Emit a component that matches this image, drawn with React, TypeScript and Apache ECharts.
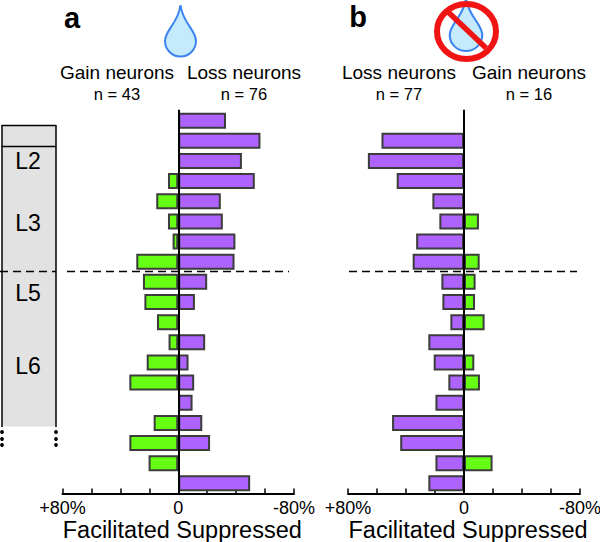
import React, { useEffect, useRef } from "react";
import * as echarts from "echarts";

const rows = ["1","2","3","4","5","6","7","8","9","10","11","12","13","14","15","16","17","18","19"];
// Positive = facilitated (left), negative = suppressed (right)
const aLoss = [-33,-56.8,-44,-52.9,-29.4,-30.8,-39.5,-38.9,-20,-11.5,null,-18.6,-7.1,-11,-9.9,-16.6,-22,null,-49.7];
const aGain = [null,null,null,7.1,15.2,7.1,3.9,29,24.4,23.4,14.7,6.7,21.8,33.8,null,17,33.8,20.5,null];
const bLoss = [null,56.9,66.3,46.4,21.8,17,33,35.4,15.6,14.9,9.4,24.6,20.9,10.8,19.7,49.6,44,19.7,24.6];
const bGain = [null,null,null,null,null,-10.3,null,-10.8,-8,-7.6,-14.2,null,-7.1,-11,null,null,null,-19.7,null];
const axisTicks = { min: -80, max: 80, interval: 20 };
const tickLabels: Record<string, string> = { "80": "+80%", "0": "0", "-80": "-80%" };
const layers = [
  { name: "L2", y: 161 },
  { name: "L3", y: 223 },
  { name: "L5", y: 293 },
  { name: "L6", y: 366 },
];
const headers = [
  { text: "Gain neurons", n: "n = 43", x: 117 },
  { text: "Loss neurons", n: "n = 76", x: 244 },
  { text: "Loss neurons", n: "n = 77", x: 399 },
  { text: "Gain neurons", n: "n = 16", x: 529 },
];
const PURPLE = "#ae63ff";
const GREEN = "#66ff14";
const DROP = "M0 0 C2 18 15.5 25 15.5 36 A15.5 15.5 0 0 1 -15.5 36 C-15.5 25 -2 18 0 0 Z";
const FONT = "'Liberation Sans', Arial, sans-serif";

function panelAxes(index: number) {
  return {
    x: {
      type: "value" as const,
      gridIndex: index,
      inverse: true,
      ...axisTicks,
      splitLine: { show: false },
      axisLine: { show: true, onZero: false, lineStyle: { color: "#000", width: 2 } },
      axisTick: { show: true, inside: true, length: 5, lineStyle: { color: "#000", width: 1.5 } },
      axisLabel: {
        show: true,
        fontFamily: FONT,
        fontSize: 18,
        lineHeight: 18,
        color: "#000",
        margin: 6,
        showMinLabel: true,
        showMaxLabel: true,
        hideOverlap: false,
        formatter: (v: number) => tickLabels[String(v)] ?? "",
      },
      name: "Facilitated Suppressed",
      nameLocation: "middle" as const,
      nameGap: 25,
      nameMoveOverlap: false,
      nameTextStyle: { fontFamily: FONT, fontSize: 23.5, lineHeight: 23, color: "#000", padding: [0, 0, 0, 8] },
    },
    y: {
      type: "category" as const,
      gridIndex: index,
      inverse: true,
      data: rows,
      z: 6,
      axisLine: { show: true, onZero: true, lineStyle: { color: "#000", width: 2 } },
      axisTick: { show: false },
      axisLabel: { show: false },
      splitLine: { show: false },
    },
  };
}

function bars(name: string, data: (number | null)[], color: string, axis: number) {
  return {
    type: "bar" as const,
    name,
    data,
    xAxisIndex: axis,
    yAxisIndex: axis,
    barWidth: 16,
    barGap: "-100%",
    itemStyle: { color, borderColor: "#3c3c3c", borderWidth: 2 },
  };
}

function t(text: string, x: number, y: number, fontSize: number, fontWeight = "normal") {
  return {
    type: "text",
    x,
    y,
    z: 20,
    style: { text, fontSize, fontWeight, fontFamily: FONT, fill: "#000", align: "center", verticalAlign: "middle" },
  };
}

function line(x1: number, y1: number, x2: number, y2: number, lineWidth: number, stroke = "#000", lineDash?: number[]) {
  return { type: "line", z: 15, shape: { x1, y1, x2, y2 }, style: { stroke, lineWidth, lineDash } };
}

const dots = [432, 439, 445].flatMap((y) =>
  [2, 56].map((x) => ({ type: "circle", z: 15, shape: { cx: x, cy: y, r: 1.9 }, style: { fill: "#000" } }))
);

export default function App() {
  const ref = useRef<HTMLDivElement>(null);
  useEffect(() => {
    document.body.style.margin = "0";
    echarts.graphic.registerShape("drop", echarts.graphic.extendPath(DROP, {}));
    const chart = echarts.init(ref.current!, undefined, { renderer: "svg" });
    const a = panelAxes(0);
    const b = panelAxes(1);
    const dropStyle = { fill: "#c5eafc", stroke: "#3b84f0", lineWidth: 2 };
    chart.setOption({
      animation: false,
      backgroundColor: "#fff",
      grid: [
        { left: 62.5, width: 231.5, top: 110.6, height: 382.8, outerBoundsMode: "none" },
        { left: 348, width: 232, top: 110.6, height: 382.8, outerBoundsMode: "none" },
      ],
      xAxis: [a.x, b.x],
      yAxis: [a.y, b.y],
      series: [
        bars("Loss neurons a", aLoss, PURPLE, 0),
        bars("Gain neurons a", aGain, GREEN, 0),
        bars("Loss neurons b", bLoss, PURPLE, 1),
        bars("Gain neurons b", bGain, GREEN, 1),
      ],
      graphic: { elements: [
        { type: "rect", z: 1, shape: { x: 2, y: 125.5, width: 54, height: 301 }, style: { fill: "#e2e2e2" } },
        line(1.5, 125.5, 56, 125.5, 1.5),
        line(1.5, 146.5, 56, 146.5, 1.5),
        line(2, 125, 2, 427, 1.5),
        line(56, 125, 56, 427, 1.5),
        ...dots,
        line(0, 271.5, 56, 271.5, 1.5, "#000", [8, 5]),
        line(67, 271.5, 289, 271.5, 1.5, "#000", [8, 5]),
        line(349, 271.5, 577, 271.5, 1.5, "#000", [8, 5]),
        ...layers.map((l) => t(l.name, 28, l.y, 23)),
        t("a", 72, 18, 29, "bold"),
        t("b", 358, 17, 29, "bold"),
        ...headers.flatMap((h) => [t(h.text, h.x, 72, 19), t(h.n, h.x, 94, 16.5)]),
        { type: "drop", x: 180.5, y: 5, z: 12, style: dropStyle },
        { type: "drop", x: 466, y: -2, z: 12, scaleX: 1.05, scaleY: 1.03, style: dropStyle },
        { type: "ellipse", z: 13, shape: { cx: 466.5, cy: 31.5, rx: 29.5, ry: 27.5 }, style: { fill: "none", stroke: "#f01414", lineWidth: 6 } },
        line(446, 10, 486, 48, 5.5, "#f01414"),
      ] },
    });
    return () => chart.dispose();
  }, []);
  return <div ref={ref} style={{ position: "absolute", left: 0, top: 0, width: 600, height: 542 }} />;
}
